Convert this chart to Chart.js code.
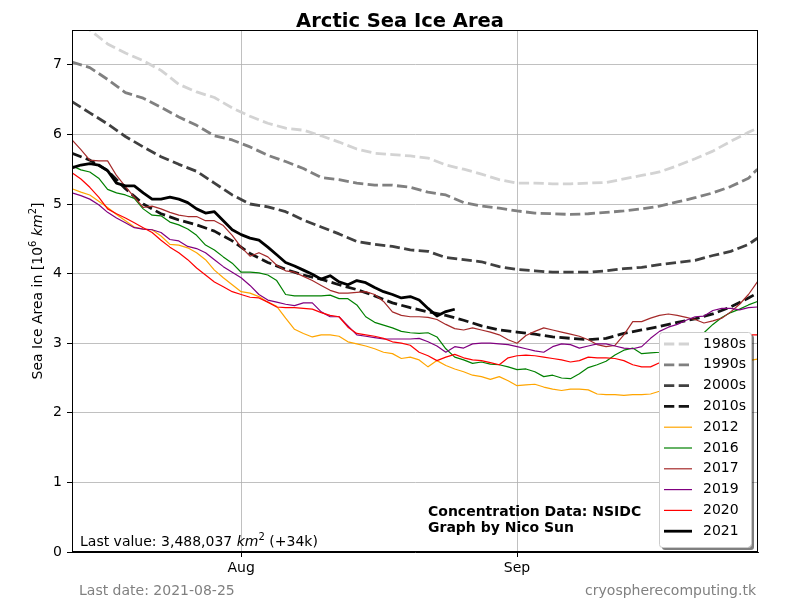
<!DOCTYPE html>
<html><head><meta charset="utf-8">
<script src="https://cdn.jsdelivr.net/npm/chart.js@4/dist/chart.umd.min.js"></script>
<style>html,body{margin:0;padding:0;background:#fff}#c{display:block}</style>
</head><body><canvas id="c" width="800" height="600"></canvas>
<script>
// x = days relative to 1 August (Aug 1 = 0, Sep 1 = 31)
const xTickDays = [0, 31];
const xTickLabels = ['Aug', 'Sep'];
const yTicks = [0, 1, 2, 3, 4, 5, 6, 7];

const decadeDays = [-19,-17,-15,-13,-11,-9,-7,-5,-3,-1,1,3,5,7,9,11,13,15,17,19,21,23,25,27,29,31,33,35,37,39,41,43,45,47,49,51,53,55,57,58];
const v1980s = [7.72,7.50,7.30,7.17,7.06,6.92,6.72,6.61,6.53,6.38,6.26,6.16,6.09,6.06,5.98,5.89,5.79,5.73,5.71,5.69,5.66,5.56,5.50,5.43,5.35,5.30,5.30,5.29,5.29,5.30,5.31,5.36,5.41,5.46,5.55,5.65,5.76,5.90,6.03,6.09];
const v1990s = [7.04,6.96,6.79,6.60,6.52,6.39,6.25,6.13,5.98,5.92,5.82,5.70,5.61,5.51,5.38,5.35,5.30,5.27,5.27,5.24,5.17,5.13,5.02,4.97,4.94,4.90,4.87,4.86,4.85,4.86,4.88,4.90,4.93,4.97,5.03,5.09,5.16,5.25,5.37,5.50];
const v2000s = [6.47,6.31,6.15,5.97,5.82,5.68,5.57,5.47,5.30,5.13,5.00,4.96,4.89,4.77,4.67,4.57,4.46,4.42,4.39,4.34,4.32,4.23,4.20,4.17,4.10,4.06,4.04,4.02,4.02,4.02,4.04,4.07,4.09,4.13,4.16,4.19,4.26,4.32,4.42,4.51];
const v2010s = [5.73,5.63,5.48,5.22,5.00,4.86,4.77,4.70,4.61,4.47,4.29,4.16,4.06,3.98,3.92,3.84,3.77,3.68,3.58,3.51,3.45,3.40,3.33,3.25,3.19,3.16,3.13,3.09,3.07,3.05,3.07,3.14,3.19,3.24,3.30,3.35,3.42,3.52,3.65,3.72];

const yearStartDay = -19; // daily values from 13 July
const v2012 = [5.22,5.17,5.13,5.04,4.95,4.85,4.76,4.67,4.64,4.63,4.54,4.42,4.41,4.37,4.30,4.20,4.05,3.94,3.84,3.74,3.72,3.67,3.59,3.53,3.36,3.20,3.14,3.09,3.12,3.12,3.10,3.02,2.99,2.96,2.92,2.87,2.85,2.78,2.80,2.76,2.66,2.75,2.68,2.63,2.59,2.54,2.52,2.48,2.52,2.46,2.39,2.40,2.41,2.37,2.34,2.32,2.34,2.34,2.33,2.27,2.26,2.26,2.25,2.26,2.26,2.27,2.31,2.36,2.42,2.47,2.52,2.57,2.62,2.66,2.69,2.72,2.75,2.77];
const v2016 = [5.55,5.49,5.46,5.37,5.21,5.16,5.13,5.08,4.93,4.84,4.83,4.74,4.70,4.64,4.55,4.41,4.34,4.24,4.15,4.02,4.02,4.01,3.98,3.90,3.70,3.68,3.68,3.68,3.68,3.69,3.64,3.64,3.55,3.38,3.30,3.26,3.22,3.17,3.15,3.14,3.15,3.09,2.92,2.80,2.76,2.71,2.73,2.70,2.69,2.66,2.62,2.63,2.59,2.52,2.54,2.50,2.49,2.56,2.65,2.69,2.74,2.83,2.90,2.93,2.85,2.86,2.87,2.90,2.94,2.99,3.05,3.15,3.27,3.37,3.44,3.49,3.55,3.60];
const v2017 = [5.92,5.78,5.63,5.62,5.62,5.41,5.25,5.10,4.95,4.97,4.93,4.88,4.84,4.82,4.82,4.76,4.76,4.69,4.55,4.38,4.25,4.30,4.24,4.12,4.04,4.02,3.96,3.90,3.83,3.76,3.72,3.72,3.73,3.74,3.70,3.60,3.45,3.40,3.38,3.38,3.37,3.34,3.27,3.21,3.19,3.22,3.19,3.16,3.12,3.05,3.00,3.11,3.17,3.22,3.19,3.16,3.13,3.10,3.05,2.98,2.95,2.97,3.12,3.31,3.31,3.36,3.40,3.42,3.40,3.37,3.34,3.29,3.32,3.36,3.45,3.56,3.70,3.88];
const v2019 = [5.16,5.12,5.07,4.99,4.88,4.80,4.73,4.66,4.64,4.63,4.59,4.49,4.47,4.39,4.36,4.30,4.20,4.10,4.02,3.94,3.83,3.70,3.62,3.59,3.56,3.54,3.58,3.58,3.45,3.38,3.38,3.25,3.12,3.10,3.08,3.06,3.06,3.06,3.06,3.07,3.02,2.96,2.87,2.95,2.93,2.99,3.00,3.00,2.99,2.98,2.95,2.92,2.89,2.87,2.95,2.99,2.98,2.93,2.96,2.99,2.99,2.96,2.93,2.92,2.95,3.07,3.17,3.23,3.27,3.33,3.38,3.39,3.47,3.50,3.50,3.48,3.51,3.52];
const v2020 = [5.45,5.36,5.24,5.10,4.93,4.86,4.80,4.73,4.66,4.59,4.48,4.38,4.30,4.20,4.08,3.98,3.88,3.81,3.74,3.70,3.66,3.65,3.59,3.52,3.51,3.51,3.50,3.49,3.44,3.40,3.38,3.23,3.14,3.12,3.10,3.07,3.02,3.00,2.97,2.87,2.82,2.75,2.80,2.84,2.79,2.76,2.75,2.72,2.69,2.79,2.82,2.83,2.82,2.80,2.78,2.76,2.73,2.75,2.80,2.79,2.79,2.78,2.75,2.69,2.66,2.66,2.72,2.82,2.90,2.96,3.00,3.03,3.06,3.08,3.10,3.12,3.12,3.12];
const v2021 = [5.52,5.56,5.58,5.56,5.48,5.30,5.26,5.26,5.16,5.07,5.07,5.10,5.07,5.02,4.93,4.87,4.89,4.76,4.63,4.56,4.51,4.48,4.38,4.27,4.16,4.11,4.05,3.99,3.92,3.97,3.88,3.84,3.90,3.87,3.80,3.74,3.70,3.65,3.67,3.62,3.50,3.39,3.454,3.488];

const seriesLabels = ['1980s','1990s','2000s','2010s','2012','2016','2017','2019','2020','2021'];

function pts(days, vals){ return vals.map((v,i)=>({x: days[i], y: v})); }
function dailyPts(vals){ return vals.map((v,i)=>({x: yearStartDay + i, y: v})); }

const DASH = [10.3, 4.4];
const styles = [
  {c:'#d3d3d3', w:2.8, d:DASH},
  {c:'#808080', w:2.8, d:DASH},
  {c:'#404040', w:2.8, d:DASH},
  {c:'#141414', w:2.8, d:DASH},
  {c:'#ffa500', w:1.2, d:[]},
  {c:'#008000', w:1.2, d:[]},
  {c:'#a52a2a', w:1.2, d:[]},
  {c:'#800080', w:1.2, d:[]},
  {c:'#ff0000', w:1.2, d:[]},
  {c:'#000000', w:2.8, d:[]}
];
const dataList = [
  pts(decadeDays, v1980s), pts(decadeDays, v1990s), pts(decadeDays, v2000s), pts(decadeDays, v2010s),
  dailyPts(v2012), dailyPts(v2016), dailyPts(v2017), dailyPts(v2019), dailyPts(v2020), dailyPts(v2021)
];
const datasets = seriesLabels.map((lab,i)=>({
  label: lab, data: dataList[i], borderColor: styles[i].c, backgroundColor: styles[i].c,
  borderWidth: styles[i].w, borderDash: styles[i].d, pointRadius: 0, tension: 0,
  fill: false, order: seriesLabels.length - i, borderCapStyle: 'butt', borderJoinStyle: 'round'
}));

const FONT = '"DejaVu Sans", sans-serif';

function drawRich(ctx, segs, x, y, align){
  let total = 0;
  segs.forEach(s=>{ ctx.font = s.f; s.w = ctx.measureText(s.t).width; total += s.w; });
  let cx = align === 'center' ? x - total/2 : (align === 'right' ? x - total : x);
  ctx.textAlign = 'left';
  segs.forEach(s=>{ ctx.font = s.f; ctx.fillText(s.t, cx, y + (s.dy||0)); cx += s.w; });
}

const overlay = {
  id: 'overlay',
  afterDraw(chart){
    const ctx = chart.ctx, a = chart.chartArea;
    ctx.save();
    ctx.strokeStyle = '#000'; ctx.lineWidth = 1;
    ctx.strokeRect(a.left + 0.5, a.top + 0.5, a.right - a.left - 1, a.bottom - a.top - 1);
    ctx.fillStyle = '#000'; ctx.textBaseline = 'alphabetic';
    ctx.font = 'bold 19.5px ' + FONT; ctx.textAlign = 'center';
    ctx.fillText('Arctic Sea Ice Area', 400, 27);
    const n = '14px ' + FONT, it = 'oblique 14px ' + FONT, sp = '10px ' + FONT;
    ctx.save();
    ctx.translate(42, 291); ctx.rotate(-Math.PI/2);
    drawRich(ctx, [{t:'Sea Ice Area in [10', f:n},{t:'6', f:sp, dy:-6},{t:' ', f:n},{t:'km', f:it},{t:'2', f:sp, dy:-6},{t:']', f:n}], 0, 0, 'center');
    ctx.restore();
    drawRich(ctx, [{t:'Last value: 3,488,037 ', f:n},{t:'km', f:it},{t:'2', f:sp, dy:-6},{t:' (+34k)', f:n}], 80, 546, 'left');
    ctx.font = 'bold 14px ' + FONT; ctx.textAlign = 'left';
    ctx.fillText('Concentration Data: NSIDC', 428, 516);
    ctx.fillText('Graph by Nico Sun', 428, 532);
    ctx.fillStyle = '#808080'; ctx.font = '14px ' + FONT;
    ctx.fillText('Last date: 2021-08-25', 79, 595);
    ctx.textAlign = 'right';
    ctx.fillText('cryospherecomputing.tk', 756, 595);
    // legend
    const lx = 659, ly = 332, lw = 92, lh = 215, r = 3;
    function rr(x,y,w,h){ ctx.beginPath(); ctx.moveTo(x+r,y); ctx.lineTo(x+w-r,y); ctx.quadraticCurveTo(x+w,y,x+w,y+r); ctx.lineTo(x+w,y+h-r); ctx.quadraticCurveTo(x+w,y+h,x+w-r,y+h); ctx.lineTo(x+r,y+h); ctx.quadraticCurveTo(x,y+h,x,y+h-r); ctx.lineTo(x,y+r); ctx.quadraticCurveTo(x,y,x+r,y); ctx.closePath(); }
    ctx.fillStyle = 'rgba(0,0,0,0.5)'; rr(lx+3, ly+3, lw, lh); ctx.fill();
    ctx.fillStyle = '#ffffff'; rr(lx, ly, lw, lh); ctx.fill();
    ctx.strokeStyle = '#cccccc'; ctx.lineWidth = 1; rr(lx+0.5, ly+0.5, lw, lh); ctx.stroke();
    chart.data.datasets.forEach((ds, i)=>{
      const yy = 344 + i*20.8;
      ctx.strokeStyle = ds.borderColor; ctx.lineWidth = ds.borderWidth;
      ctx.setLineDash(ds.borderDash.length ? ds.borderDash : []);
      ctx.lineCap = 'butt';
      ctx.beginPath(); ctx.moveTo(664, yy); ctx.lineTo(692, yy); ctx.stroke();
      ctx.setLineDash([]);
      ctx.fillStyle = '#000'; ctx.font = '14px ' + FONT; ctx.textAlign = 'left'; ctx.textBaseline = 'middle';
      ctx.fillText(ds.label, 703, yy);
    });
    ctx.restore();
  }
};

new Chart(document.getElementById('c'), {
  type: 'line',
  data: { datasets },
  options: {
    responsive: false, animation: false, devicePixelRatio: 1,
    layout: { padding: { left: 0, top: 30, right: 42, bottom: 0 } },
    plugins: { legend: { display: false }, title: { display: false }, tooltip: { enabled: false } },
    scales: {
      x: {
        type: 'linear', min: -19, max: 58.07,
        afterBuildTicks: s => { s.ticks = xTickDays.map(v => ({ value: v })); },
        afterFit: s => { s.height = 48; },
        ticks: { autoSkip: false, maxRotation: 0, color: '#000', font: { family: FONT, size: 14 }, padding: 3,
          callback: v => xTickLabels[xTickDays.indexOf(v)] },
        grid: { color: '#b0b0b0', lineWidth: 0.8, tickColor: '#000', tickLength: 5, tickWidth: 1 },
        border: { color: '#000', width: 1 }
      },
      y: {
        type: 'linear', min: 0, max: 7.5,
        afterBuildTicks: s => { s.ticks = yTicks.map(v => ({ value: v })); },
        afterFit: s => { s.width = 72; },
        ticks: { color: '#000', font: { family: FONT, size: 14 }, padding: 5, callback: v => String(v) },
        grid: { color: '#b0b0b0', lineWidth: 0.8, tickColor: '#000', tickLength: 5, tickWidth: 1 },
        border: { color: '#000', width: 1 }
      }
    }
  },
  plugins: [overlay]
});
</script>
</body></html>
